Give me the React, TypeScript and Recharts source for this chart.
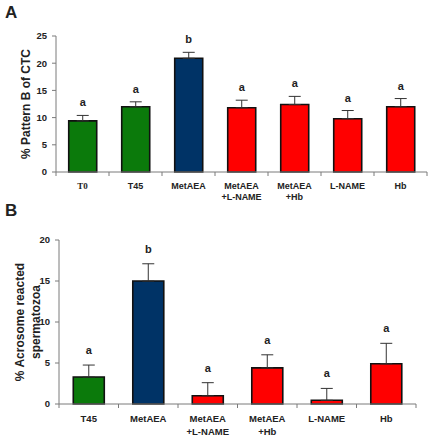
import { BarChart, Bar, XAxis, YAxis, Cell, ErrorBar, LabelList } from 'recharts';

const groupsA = ['T0', 'T45', 'MetAEA', 'MetAEA\n+L-NAME', 'MetAEA\n+Hb', 'L-NAME', 'Hb'];
const meansA = [9.4, 12.0, 20.9, 11.8, 12.4, 9.8, 12.0];
const semA = [1.0, 0.9, 1.1, 1.4, 1.5, 1.5, 1.5];
const lettersA = ['a', 'a', 'b', 'a', 'a', 'a', 'a'];
const colorsA = ['#0b7a0b', '#0b7a0b', '#003366', '#ff0000', '#ff0000', '#ff0000', '#ff0000'];
const ticksA = [0, 5, 10, 15, 20, 25];

const groupsB = ['T45', 'MetAEA', 'MetAEA\n+L-NAME', 'MetAEA\n+Hb', 'L-NAME', 'Hb'];
const meansB = [3.3, 15.0, 1.0, 4.4, 0.45, 4.9];
const semB = [1.45, 2.1, 1.6, 1.6, 1.45, 2.5];
const lettersB = ['a', 'b', 'a', 'a', 'a', 'a'];
const colorsB = ['#0b7a0b', '#003366', '#ff0000', '#ff0000', '#ff0000', '#ff0000'];
const ticksB = [0, 5, 10, 15, 20];

const font = 'Arial, "Liberation Sans", sans-serif';
const axisColor = '#7a7a7a';

const build = (groups: string[], means: number[], sem: number[], letters: string[]) =>
    groups.map((g, i) => ({ name: g, mean: means[i], err: [0, sem[i]], cap: sem[i], sig: letters[i] }));

const dataA = build(groupsA, meansA, semA, lettersA);
const dataB = build(groupsB, meansB, semB, lettersB);

// category labels plus the small ticks between categories
const XTick = (props: any) => {
    const { x, y, payload, index, step, count, size, first, gap } = props;
    const lines = String(payload.value).split('\n');
    const serif = payload.value === 'T0';
    return (
        <g>
            <line x1={x - step / 2} x2={x - step / 2} y1={y} y2={y + 4} stroke={axisColor} />
            {index === count - 1 && <line x1={x + step / 2} x2={x + step / 2} y1={y} y2={y + 4} stroke={axisColor} />}
            {lines.map((l, i) => (
                <text key={i} x={x} y={y + first + i * gap} textAnchor="middle" fontSize={size}
                    fontWeight="bold" fill="#222" fontFamily={serif ? '"Liberation Serif", serif' : font}>
                    {l}
                </text>
            ))}
        </g>
    );
};

const YLabel = (props: any) => {
    const { viewBox, lines, xs } = props;
    const cy = viewBox.y + viewBox.height / 2;
    return (
        <g>
            {lines.map((l: string, i: number) => (
                <text key={i} x={xs[i]} y={cy} transform={`rotate(-90 ${xs[i]} ${cy})`} textAnchor="middle"
                    fontSize={12} fontWeight="bold" fill="#222" fontFamily={font}>
                    {l}
                </text>
            ))}
        </g>
    );
};

const Panel = ({ data, colors, ticks, max, width, height, margin, yWidth, step, tickFirst, tickGap, tickSize, labelLines, labelXs, sigOffset }: any) => (
    <BarChart width={width} height={height} data={data} margin={margin} barCategoryGap="24%">
        <XAxis dataKey="name" stroke={axisColor} tickLine={false} tickSize={0} tickMargin={0} height={33}
            interval={0}
            tick={<XTick step={step} count={data.length} size={tickSize} first={tickFirst} gap={tickGap} />} />
        <YAxis domain={[0, max]} ticks={ticks} width={yWidth} stroke={axisColor} tickSize={4} tickMargin={5}
            tick={{ fontSize: 9.5, fontWeight: 'bold', fill: '#222', fontFamily: font }}
            label={<YLabel lines={labelLines} xs={labelXs} />} />
        <Bar dataKey="mean" stackId="s" stroke="#111" strokeWidth={1.6} isAnimationActive={false}>
            {data.map((d: any, i: number) => <Cell key={d.name} fill={colors[i]} />)}
            <ErrorBar dataKey="err" width={6} stroke="#333" strokeWidth={1} direction="y" />
        </Bar>
        <Bar dataKey="cap" stackId="s" fill="transparent" stroke="none" isAnimationActive={false}>
            <LabelList dataKey="sig" position="top" offset={sigOffset} fontSize={11} fontWeight="bold" fill="#222" fontFamily={font} />
        </Bar>
    </BarChart>
);

export default function App() {
    return (
        <div style={{ position: 'absolute', left: 0, top: 0, width: 430, height: 437, background: '#fff', fontFamily: font }}>
            <div style={{ position: 'absolute', left: 5, top: 3, fontSize: 17, fontWeight: 'bold', color: '#222' }}>A</div>
            <div style={{ position: 'absolute', left: 5, top: 201, fontSize: 17, fontWeight: 'bold', color: '#222' }}>B</div>
            <div style={{ position: 'absolute', left: 0, top: 0 }}>
                <Panel data={dataA} colors={colorsA} ticks={ticksA} max={25} width={430} height={205}
                    margin={{ top: 36, right: 3, left: 0, bottom: 0 }} yWidth={56} step={53}
                    tickFirst={16.5} tickGap={11} tickSize={9}
                    labelLines={['% Pattern B of CTC']} labelXs={[30]} sigOffset={9} />
            </div>
            <div style={{ position: 'absolute', left: 0, top: 205 }}>
                <Panel data={dataB} colors={colorsB} ticks={ticksB} max={20} width={430} height={232}
                    margin={{ top: 35, right: 14, left: 0, bottom: 0 }} yWidth={59} step={59.5}
                    tickFirst={18} tickGap={12.5} tickSize={9.5}
                    labelLines={['% Acrosome reacted', 'spermatozoa']} labelXs={[24, 40]} sigOffset={11} />
            </div>
        </div>
    );
}
